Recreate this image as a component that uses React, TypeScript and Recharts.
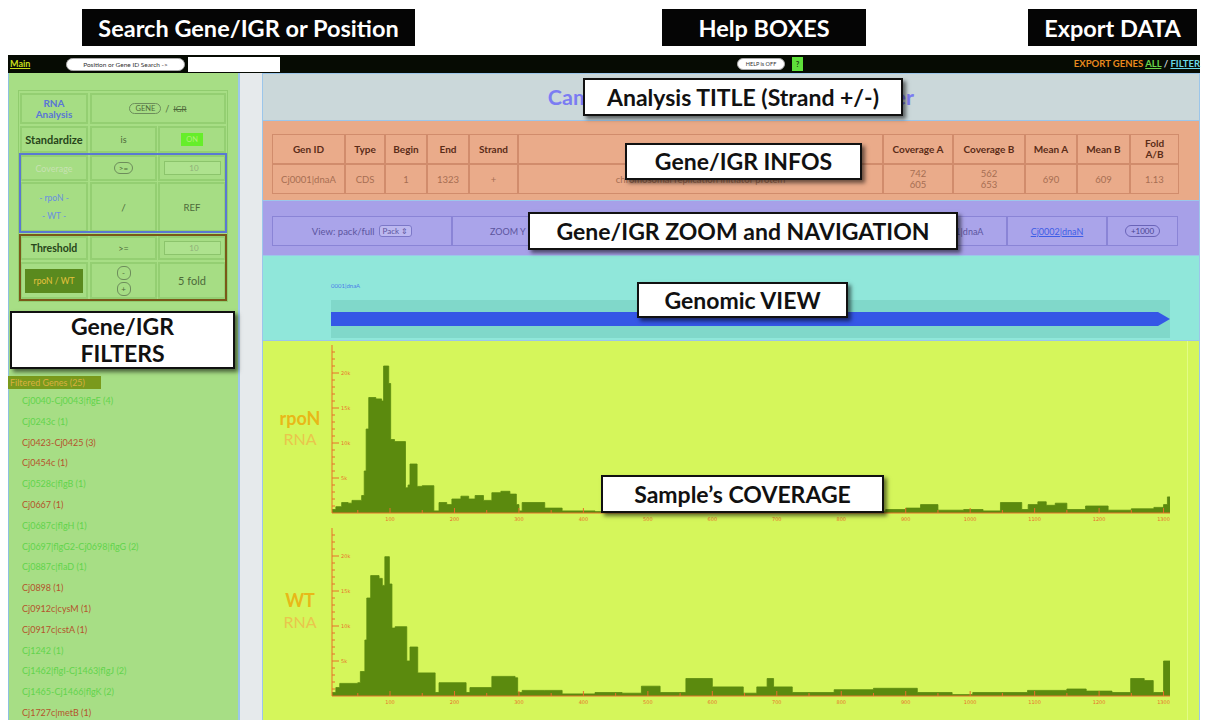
import React from "react"
import { AreaChart, Area, XAxis, YAxis, BarChart, Bar } from "recharts"

// read coverage (nt position -> reads), step profile
const rpoNPos = [10, 16, 25, 35, 41, 56, 60, 63, 67, 78, 87, 90, 98, 101, 107, 124, 128, 131, 142, 150, 168, 176, 188, 196, 210, 222, 232, 245, 258, 272, 286, 296, 300, 305, 340, 367, 418, 470, 520, 560, 600, 640, 680, 720, 760, 800, 840, 869, 900, 923, 950, 990, 1020, 1047, 1080, 1090, 1105, 1118, 1132, 1150, 1179, 1214, 1250, 1285, 1300, 1306, 1310]
const rpoNCov = [500, 900, 1500, 1400, 1800, 2500, 6000, 12000, 16500, 16300, 16000, 21000, 18500, 10500, 10200, 3600, 4000, 7000, 3800, 3900, 300, 1500, 1200, 2000, 2400, 2000, 2500, 1800, 2900, 3100, 2700, 1200, 300, 1500, 700, 300, 200, 400, 250, 500, 300, 600, 300, 500, 300, 400, 250, 500, 700, 1200, 400, 500, 300, 1500, 500, 1200, 1600, 1100, 1400, 500, 1000, 400, 600, 800, 1200, 2300, 2300]

const wtPos = [10, 16, 22, 50, 54, 61, 64, 70, 83, 88, 92, 99, 103, 108, 126, 131, 143, 170, 176, 218, 224, 258, 294, 298, 305, 340, 367, 418, 460, 490, 519, 559, 600, 648, 669, 685, 695, 724, 789, 850, 918, 972, 1004, 1089, 1150, 1180, 1220, 1249, 1270, 1284, 1300, 1310]
const wtCov = [500, 1200, 1800, 1900, 3500, 8000, 14000, 17200, 16800, 15800, 19900, 16000, 9700, 9900, 5000, 7000, 3300, 500, 1900, 500, 1200, 2800, 2600, 500, 800, 800, 300, 500, 400, 1400, 500, 2500, 1300, 400, 1300, 2500, 1300, 500, 900, 1100, 500, 200, 500, 800, 1000, 700, 500, 2500, 2200, 500, 5000, 5000]

const xTicks = [50, 100, 150, 200, 250, 300, 350, 400, 450, 500, 550, 600, 650, 700, 750, 800, 850, 900, 950, 1000, 1050, 1100, 1150, 1200, 1250, 1300]
const yTicks = [1000, 2000, 3000, 4000, 5000, 6000, 7000, 8000, 9000, 10000, 11000, 12000, 13000, 14000, 15000, 16000, 17000, 18000, 19000, 20000, 21000, 22000, 23000]

const genes = [{ name: "0001|dnaA", span: [1, 1323] }]

const infoHeaders = ["Gen ID", "Type", "Begin", "End", "Strand", "", "Coverage A", "Coverage B", "Mean A", "Mean B", "Fold\nA/B"]
const infoValues = ["Cj0001|dnaA", "CDS", "1", "1323", "+", "chromosomal replication initiator protein", "742\n605", "562\n653", "690", "609", "1.13"]
const infoEdges = [272, 345, 385, 427, 469, 518, 883, 953, 1025, 1077, 1130, 1179]

const filteredGenes = [
  "Cj0040-Cj0043|flgE (4)", "Cj0243c (1)", "Cj0423-Cj0425 (3)", "Cj0454c (1)", "Cj0528c|flgB (1)", "Cj0667 (1)",
  "Cj0687c|flgH (1)", "Cj0697|flgG2-Cj0698|flgG (2)", "Cj0887c|flaD (1)", "Cj0898 (1)", "Cj0912c|cysM (1)",
  "Cj0917c|cstA (1)", "Cj1242 (1)", "Cj1462|flgI-Cj1463|flgJ (2)", "Cj1465-Cj1466|flgK (2)", "Cj1727c|metB (1)",
]
const filteredUp = [true, true, false, false, true, false, true, true, true, false, false, false, true, true, true, false]

const ORANGE = "#e8702a"
const AREA = "#5b8a0e"
const FONT = "Lato, 'Open Sans', sans-serif"

const abs = (left: number, top: number, width: number, height: number, extra: React.CSSProperties = {}): React.CSSProperties => ({
  position: "absolute", left, top, width, height, boxSizing: "border-box", ...extra,
})

const center: React.CSSProperties = { display: "flex", alignItems: "center", justifyContent: "center", textAlign: "center" }

const Callout = ({ x, y, w, h, children }: any) => (
  <div style={abs(x, y, w, h, { ...center, background: "#fff", border: "2px solid #111", boxShadow: "3px 3px 4px rgba(0,0,0,0.55)", fontWeight: 700, fontSize: 23, lineHeight: "27px", color: "#111", zIndex: 5, whiteSpace: "nowrap" })}>
    {children}
  </div>
)

const DarkLabel = ({ x, w, children }: any) => (
  <div style={abs(x, 9, w, 37, { ...center, background: "#050505", color: "#fff", fontWeight: 700, fontSize: 23.5, whiteSpace: "nowrap" })}>{children}</div>
)

const YTick = (props: any) => {
  const { x, y, payload } = props
  const v = payload.value as number
  const major = v % 5000 === 0
  return (
    <g>
      <line x1={x} x2={x + (major ? 7 : 3)} y1={y} y2={y} stroke={ORANGE} strokeWidth={1} />
      {major && <text x={x + 9} y={y + 2} fontSize={5} fill={ORANGE} fontFamily="DejaVu Sans">{v / 1000}k</text>}
    </g>
  )
}

const XTick = (props: any) => {
  const { x, y, payload } = props
  const v = payload.value as number
  const major = v % 100 === 0
  return (
    <g>
      <line x1={x} x2={x} y1={y - (major ? 5 : 3)} y2={y} stroke={ORANGE} strokeWidth={1} />
      {major && <text x={x} y={y + 8} textAnchor="middle" fontSize={5} fill={ORANGE} fontFamily="DejaVu Sans">{v}</text>}
    </g>
  )
}

const Coverage = ({ pos, cov, top }: { pos: number[]; cov: number[]; top: number }) => {
  const data = pos.map((p, i) => ({ pos: p, cov: cov[i] }))
  return (
    <div style={abs(300, top, 880, 190)}>
      <AreaChart width={880} height={190} data={data} margin={{ top: 0, right: 10, bottom: 0, left: 32 }}>
        <Area type="stepAfter" dataKey="cov" stroke={AREA} strokeWidth={0.8} fill={AREA} fillOpacity={1} isAnimationActive={false} />
        <XAxis dataKey="pos" type="number" domain={[10, 1310]} ticks={xTicks} interval={0} height={22} tickSize={0} tickMargin={0}
          axisLine={{ stroke: ORANGE }} tickLine={false} tick={<XTick />} allowDataOverflow />
        <YAxis type="number" domain={[0, 24000]} ticks={yTicks} interval={0} mirror width={1} tickSize={0} tickMargin={0}
          axisLine={{ stroke: ORANGE }} tickLine={false} tick={<YTick />} allowDataOverflow />
      </AreaChart>
    </div>
  )
}

const GeneArrow = (props: any) => {
  const { x, y, width, height, payload } = props
  const head = 12
  const pts = `${x},${y} ${x + width - head},${y} ${x + width},${y + height / 2} ${x + width - head},${y + height} ${x},${y + height}`
  return (
    <g>
      <text x={x} y={y - 24} fontSize={6} fill="#4a7ee8" fontFamily={FONT}>{payload.name}</text>
      <polygon points={pts} fill="#3557e6" />
    </g>
  )
}

const cell = (l: number, t: number, w: number, h: number, extra: React.CSSProperties = {}) =>
  abs(l, t, w, h, { ...center, border: "2px solid #94cf72", background: "#a6dd84", ...extra })

const inputBox: React.CSSProperties = { border: "1px solid #8cc46c", background: "#aee28e", fontSize: 8, color: "#8fb07a", paddingLeft: 3, lineHeight: "12px" }
const roundBtn: React.CSSProperties = { width: 12, height: 12, borderRadius: 6, border: "1px solid #6d8d5b", fontSize: 8, color: "#4d6a3a", ...center }

const LeftPanel = () => (
  <>
    <div style={abs(8, 73, 232, 647, { background: "#a7de85", borderLeft: "1px solid #8ec0e0", borderRight: "2px solid #9cc8ea" })} />
    <div style={abs(18, 90, 210, 212, { border: "1px solid #90cc6e" })} />
    {/* row 1 */}
    <div style={cell(20, 93, 68, 31, { color: "#5a76d6", fontWeight: 700, fontSize: 10, lineHeight: "11px" })}>RNA<br />Analysis</div>
    <div style={cell(90, 93, 136, 31, { fontSize: 9, color: "#4d6a3a" })}>
      <span style={{ border: "1px solid #6d8d5b", borderRadius: 8, padding: "0 5px", fontSize: 7.5 }}>GENE</span>
      <span style={{ margin: "0 4px" }}>/</span>
      <span style={{ textDecoration: "line-through", fontSize: 8 }}>IGR</span>
    </div>
    {/* row 2 */}
    <div style={cell(20, 126, 68, 27, { color: "#27451a", fontWeight: 700, fontSize: 11 })}>Standardize</div>
    <div style={cell(90, 126, 67, 27, { color: "#4d6a3a", fontSize: 9 })}>is</div>
    <div style={cell(158, 126, 68, 27)}>
      <div style={{ background: "#66ee2a", color: "#aef27a", fontSize: 7.5, width: 22, height: 13, ...center }}>ON</div>
    </div>
    {/* row 3 + 4 */}
    <div style={cell(20, 155, 68, 26, { color: "#c6e2b2", fontSize: 9 })}>Coverage</div>
    <div style={cell(90, 155, 67, 26)}>
      <span style={{ border: "1px solid #6d8d5b", borderRadius: 8, padding: "0 4px", fontSize: 8, color: "#4d6a3a" }}>&gt;=</span>
    </div>
    <div style={cell(158, 155, 68, 26)}>
      <div style={{ ...abs(4, 4, 57, 14), ...inputBox }}>10</div>
    </div>
    <div style={cell(20, 182, 68, 50, { color: "#6a8ee2", fontSize: 8.5, lineHeight: "18px", flexDirection: "column" })}>
      <div>- rpoN -</div><div>- WT -</div>
    </div>
    <div style={cell(90, 182, 67, 50, { color: "#4d6a3a", fontSize: 10 })}>/</div>
    <div style={cell(158, 182, 68, 50, { color: "#4d6a3a", fontSize: 9.5 })}>REF</div>
    <div style={abs(19, 153, 208, 80, { border: "2px solid #5a78d2" })} />
    {/* row 5 + 6 */}
    <div style={cell(20, 236, 68, 24, { color: "#27451a", fontWeight: 700, fontSize: 10.5 })}>Threshold</div>
    <div style={cell(90, 236, 67, 24, { color: "#4d6a3a", fontSize: 9 })}>&gt;=</div>
    <div style={cell(158, 236, 68, 24)}>
      <div style={{ ...abs(4, 3, 57, 14), ...inputBox }}>10</div>
    </div>
    <div style={cell(20, 262, 68, 37)}>
      <div style={{ background: "#5a8a1e", color: "#e6c23e", fontSize: 8.5, width: 58, height: 24, ...center }}>rpoN / WT</div>
    </div>
    <div style={cell(90, 262, 67, 37, { flexDirection: "column", gap: 2 })}>
      <div style={roundBtn}>-</div>
      <div style={roundBtn}>+</div>
    </div>
    <div style={cell(158, 262, 68, 37, { color: "#4d6a3a", fontSize: 11 })}>5 fold</div>
    <div style={abs(19, 234, 208, 67, { border: "2px solid #7a5818" })} />
    {/* filtered genes */}
    <div style={abs(8, 376, 93, 13, { background: "#7a9a1c", color: "#d9b040", fontSize: 9, paddingLeft: 2, lineHeight: "13px", whiteSpace: "nowrap" })}>Filtered Genes (25)</div>
    {filteredGenes.map((g, i) => (
      <div key={g} style={abs(22, 394 + i * 20.8, 215, 13, { fontSize: 9, lineHeight: "13px", color: filteredUp[i] ? "#62d44c" : "#b4542c", whiteSpace: "nowrap" })}>{g}</div>
    ))}
  </>
)

const InfoTable = () => (
  <>
    {infoHeaders.map((h, i) => (
      <div key={"h" + i} style={abs(infoEdges[i], 134, infoEdges[i + 1] - infoEdges[i], 30, { ...center, border: "1px solid #d18c6c", background: "#eaab8a", color: "#5a2c18", fontWeight: 700, fontSize: 10, lineHeight: "11px", whiteSpace: "pre-line" })}>{h}</div>
    ))}
    {infoValues.map((v, i) => (
      <div key={"v" + i} style={abs(infoEdges[i], 164, infoEdges[i + 1] - infoEdges[i], 30, { ...center, border: "1px solid #d18c6c", background: "#eaab8a", color: "#a76e52", fontSize: 9.5, lineHeight: "11px", whiteSpace: "pre-line" })}>{v}</div>
    ))}
  </>
)

const navEdges = [272, 452, 700, 908, 1007, 1107, 1178]

const NavRow = () => (
  <>
    {navEdges.slice(0, -1).map((e, i) => (
      <div key={e} style={abs(e, 216, navEdges[i + 1] - e, 30, { border: "1px solid #8a84d6", background: "#aaa4ea" })} />
    ))}
    <div style={abs(272, 216, 180, 30, { ...center, fontSize: 9.5, color: "#5c559e", gap: 4 })}>
      <span>View: pack/full</span>
      <span style={{ border: "1px solid #7c78c8", borderRadius: 3, background: "#bcb8f0", padding: "0 3px", fontSize: 8 }}>Pack ⇕</span>
    </div>
    <div style={abs(490, 216, 36, 30, { display: "flex", alignItems: "center", fontSize: 9, color: "#5c559e", whiteSpace: "nowrap" })}>ZOOM Y</div>
    <div style={abs(908, 216, 99, 30, { ...center, fontSize: 9, color: "#5c559e" })}>Cj0001|dnaA</div>
    <div style={abs(1007, 216, 100, 30, { ...center, fontSize: 9, color: "#3d5de6", textDecoration: "underline" })}>Cj0002|dnaN</div>
    <div style={abs(1107, 216, 71, 30, center)}>
      <span style={{ border: "1px solid #6a64b8", borderRadius: 8, padding: "0 5px", fontSize: 8, color: "#4a4490" }}>+1000</span>
    </div>
  </>
)

const App = () => (
  <div style={abs(0, 0, 1205, 720, { background: "#fff", overflow: "hidden", fontFamily: FONT })}>
    <DarkLabel x={82} w={333}>Search Gene/IGR or Position</DarkLabel>
    <DarkLabel x={662} w={204}>Help BOXES</DarkLabel>
    <DarkLabel x={1028} w={169}>Export DATA</DarkLabel>

    {/* top toolbar */}
    <div style={abs(8, 55, 1192, 18, { background: "#060b03" })} />
    <div style={abs(10, 58, 30, 12, { color: "#c6de1c", fontWeight: 700, fontSize: 9, textDecoration: "underline", lineHeight: "12px" })}>Main</div>
    <div style={abs(66, 58, 119, 13, { ...center, background: "#fff", borderRadius: 7, border: "1px solid #aaa", fontSize: 6.5, color: "#333" })}>Position or Gene ID Search -&gt;</div>
    <div style={abs(188, 57, 92, 15, { background: "#fff" })} />
    <div style={abs(737, 58, 48, 12, { ...center, background: "#fff", borderRadius: 6, border: "1px solid #aaa", fontSize: 5.5, color: "#333" })}>HELP is OFF</div>
    <div style={abs(792, 57, 11, 14, { ...center, background: "#5ee03a", color: "#1a3a10", fontSize: 7, fontWeight: 700 })}>?</div>
    <div style={abs(1020, 58, 180, 12, { textAlign: "right", fontWeight: 700, fontSize: 9.5, lineHeight: "12px", whiteSpace: "nowrap" })}>
      <span style={{ color: "#e8891e" }}>EXPORT GENES </span>
      <span style={{ color: "#6ad84a", textDecoration: "underline" }}>ALL</span>
      <span style={{ color: "#cfd8e0" }}> / </span>
      <span style={{ color: "#6ad8e8", textDecoration: "underline" }}>FILTER</span>
    </div>

    <LeftPanel />
    <div style={abs(240, 73, 22, 647, { background: "#e6eaec" })} />

    {/* right area bands */}
    <div style={abs(262, 73, 938, 647, { border: "1px solid #9cc6ea", background: "#d5f65b" })} />
    <div style={abs(263, 74, 936, 46, { ...center, background: "#cbd8da", color: "#7b7cf2", fontWeight: 700, fontSize: 21.5, whiteSpace: "nowrap" })}>Campylobacter jejuni RNA-seq Viewer</div>
    <div style={abs(263, 120, 936, 80, { background: "#e9aa88", borderTop: "1px solid #9cc6ea" })} />
    <InfoTable />
    <div style={abs(263, 200, 936, 55, { background: "#a7a0e8", borderTop: "1px solid #9cc6ea" })} />
    <NavRow />
    <div style={abs(263, 255, 936, 85, { background: "#90e7da", borderTop: "1px solid #9cc6ea" })} />
    <div style={abs(331, 300, 839, 38, { background: "#80d8ca" })} />
    <div style={abs(300, 270, 880, 68)}>
      <BarChart width={880} height={68} data={genes} layout="vertical" margin={{ top: 30, right: 10, bottom: 0, left: 31 }}>
        <XAxis type="number" domain={[1, 1323]} hide />
        <YAxis type="category" dataKey="name" hide />
        <Bar dataKey="span" barSize={14} shape={<GeneArrow />} isAnimationActive={false} />
      </BarChart>
    </div>
    <div style={abs(263, 340, 936, 380, { background: "#d5f65b", borderTop: "1px solid #9cc6ea" })} />
    <div style={abs(1187, 341, 1, 379, { background: "#e2fb86" })} />

    <div style={abs(266, 407, 68, 24, { textAlign: "center", color: "#e8b818", fontWeight: 700, fontSize: 18 })}>rpoN</div>
    <div style={abs(266, 429, 68, 22, { textAlign: "center", color: "#e8c64c", fontSize: 16 })}>RNA</div>
    <Coverage pos={rpoNPos} cov={rpoNCov} top={345} />

    <div style={abs(266, 589, 68, 24, { textAlign: "center", color: "#e8b818", fontWeight: 700, fontSize: 18 })}>WT</div>
    <div style={abs(266, 612, 68, 22, { textAlign: "center", color: "#e8c64c", fontSize: 16 })}>RNA</div>
    <Coverage pos={wtPos} cov={wtCov} top={528} />

    {/* help callouts */}
    <Callout x={583} y={78} w={320} h={38}>Analysis TITLE (Strand +/-)</Callout>
    <Callout x={625} y={143} w={237} h={37}>Gene/IGR INFOS</Callout>
    <Callout x={528} y={212} w={430} h={38}>Gene/IGR ZOOM and NAVIGATION</Callout>
    <Callout x={637} y={282} w={211} h={36}>Genomic VIEW</Callout>
    <Callout x={601} y={475} w={283} h={38}>Sample’s COVERAGE</Callout>
    <Callout x={10} y={311} w={225} h={58}>Gene/IGR<br />FILTERS</Callout>
  </div>
)

export default App
